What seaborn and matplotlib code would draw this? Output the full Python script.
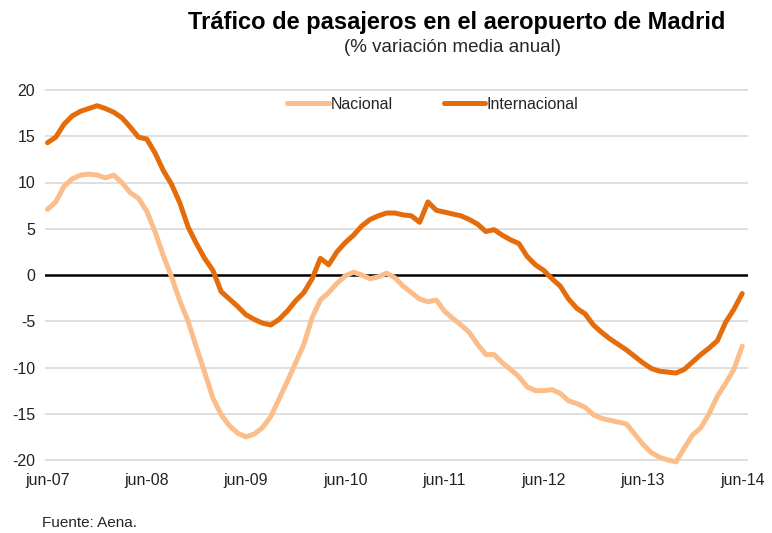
import pandas as pd
import matplotlib.pyplot as plt
import seaborn as sns

# datos mensuales jun-07 .. jun-14 (% variación media anual)
months = pd.date_range('2007-06-01', '2014-06-01', freq='MS')

nacional = [
    7.1, 7.9, 9.6, 10.4, 10.8, 10.9, 10.8, 10.5, 10.8, 10.0,
    8.9, 8.3, 6.9, 4.7, 2.1, -0.2, -2.8, -5.0, -7.8, -10.5,
    -13.3, -15.1, -16.3, -17.1, -17.5, -17.2, -16.5, -15.3, -13.4, -11.5,
    -9.5, -7.5, -4.6, -2.7, -1.9, -0.9, -0.1, 0.3, 0.0, -0.4,
    -0.2, 0.2, -0.3, -1.2, -1.9, -2.6, -2.9, -2.7, -3.9, -4.7,
    -5.4, -6.2, -7.5, -8.6, -8.6, -9.5, -10.2, -11.0, -12.1, -12.5,
    -12.5, -12.4, -12.8, -13.6, -13.9, -14.3, -15.1, -15.5, -15.7, -15.9,
    -16.1, -17.2, -18.3, -19.2, -19.7, -20.0, -20.2, -18.7, -17.3, -16.5,
    -15.0, -13.1, -11.7, -10.2, -7.7,
]

internacional = [
    14.3, 14.9, 16.3, 17.2, 17.7, 18.0, 18.3, 18.0, 17.6, 17.0,
    16.0, 14.9, 14.7, 13.2, 11.3, 9.8, 7.8, 5.2, 3.4, 1.8,
    0.5, -1.8, -2.6, -3.4, -4.3, -4.8, -5.2, -5.4, -4.8, -3.9,
    -2.8, -1.9, -0.4, 1.8, 1.1, 2.5, 3.5, 4.3, 5.3, 6.0,
    6.4, 6.7, 6.7, 6.5, 6.4, 5.7, 7.9, 7.0, 6.8, 6.6,
    6.4, 6.0, 5.5, 4.7, 4.9, 4.3, 3.8, 3.4, 2.0, 1.1,
    0.5, -0.4, -1.2, -2.6, -3.6, -4.2, -5.4, -6.2, -6.9, -7.5,
    -8.1, -8.8, -9.5, -10.1, -10.4, -10.5, -10.6, -10.2, -9.4, -8.6,
    -7.9, -7.1, -5.1, -3.7, -2.0,
]

tick_labels = ['jun-07', 'jun-08', 'jun-09', 'jun-10', 'jun-11', 'jun-12', 'jun-13', 'jun-14']
series_names = ['Nacional', 'Internacional']
colors = ['#FBBE8B', '#E46C0A']

df = pd.DataFrame({'mes': list(range(len(months))) * 2,
                   'valor': nacional + internacional,
                   'serie': [series_names[0]] * len(nacional) + [series_names[1]] * len(internacional)})

sns.set_style('white')
plt.rcParams['font.family'] = ['Liberation Sans', 'DejaVu Sans']
plt.rcParams['axes.unicode_minus'] = False

fig = plt.figure(figsize=(7.72, 5.33), dpi=100)
ax = fig.add_axes([45 / 772, 1 - 469.25 / 533, 703 / 772, 388.5 / 533])

sns.lineplot(data=df, x='mes', y='valor', hue='serie', hue_order=series_names,
             palette=colors, linewidth=3.6, ax=ax, legend=True)

ax.set_ylim(-21, 21)
ax.set_xlim(-0.3, 84.7)
ax.set_yticks(range(-20, 21, 5))
ax.set_xticks(range(0, 85, 12))
ax.set_xticklabels(tick_labels)
ax.set_xlabel('')
ax.set_ylabel('')
for y in range(-20, 21, 5):
    if y != 0:
        ax.axhline(y, color='#dcdcdc', lw=1.3, zorder=0)
ax.axhline(0, color='black', lw=1.8, zorder=1)
sns.despine(ax=ax, left=True, bottom=True)
ax.tick_params(axis='both', length=0, labelsize=11.5, colors='#222222')
ax.tick_params(axis='y', pad=7)
ax.tick_params(axis='x', pad=3)

leg = ax.legend(loc='upper center', bbox_to_anchor=(0.552, 0.995), ncol=2, frameon=False,
                fontsize=11.5, handlelength=2.6, handletextpad=0.1, columnspacing=3.2)
for line in leg.get_lines():
    line.set_linewidth(3.6)
    line.set_solid_capstyle('round')
for line in ax.get_lines():
    line.set_solid_capstyle('round')

fig.text(457 / 772, 1 - 22 / 533, 'Tráfico de pasajeros en el aeropuerto de Madrid',
         ha='center', va='center', fontsize=17, fontweight='bold', color='black')
fig.text(453 / 772, 1 - 47 / 533, '(% variación media anual)',
         ha='center', va='center', fontsize=13.5)
fig.text(42 / 772, 1 - 523 / 533, 'Fuente: Aena.', ha='left', va='center', fontsize=11)

fig.savefig('out.png', dpi=100)
